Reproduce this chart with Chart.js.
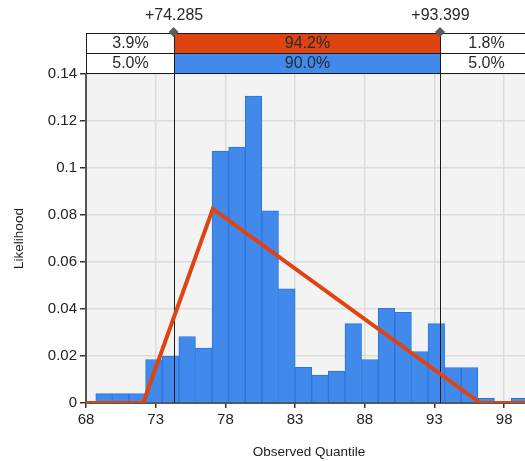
<!DOCTYPE html>
<html>
<head>
<meta charset="utf-8">
<script src="https://cdn.jsdelivr.net/npm/chart.js@4.4.1/dist/chart.umd.min.js"></script>
<style>
  html, body { margin: 0; padding: 0; background: #ffffff; overflow: hidden; }
  #wrap { width: 545px; height: 461px; }
</style>
</head>
<body>
<div id="wrap"><canvas id="c" width="545" height="461"></canvas></div>
<script>
// Histogram of observed values: bin centres and likelihood (density) per bin
const binCenters = [69.296, 70.488, 71.680, 72.872, 74.064, 75.256, 76.448, 77.640, 78.832,
                    80.024, 81.216, 82.408, 83.600, 84.792, 85.984, 87.176, 88.368, 89.560,
                    90.752, 91.944, 93.136, 94.328, 95.520, 96.712, 97.904, 99.096];
const likelihood = [0.0040, 0.0040, 0.0040, 0.0185, 0.0200, 0.0283, 0.0234, 0.1072, 0.1089,
                    0.1306, 0.0818, 0.0486, 0.0152, 0.0119, 0.0136, 0.0338, 0.0185, 0.0403,
                    0.0386, 0.0219, 0.0338, 0.0151, 0.0151, 0.0020, 0.0000, 0.0020];

// Fitted triangular distribution (min 72.1, mode 77.1, max 96.3)
const fitX = [68, 72.1, 77.1, 96.3, 100];
const fitY = [0, 0, 0.0826, 0, 0];

// Axis ticks
const xTicks = [68, 73, 78, 83, 88, 93, 98];
const yTicks = [0, 0.02, 0.04, 0.06, 0.08, 0.1, 0.12, 0.14];
const yTickLabels = ['0', '0.02', '0.04', '0.06', '0.08', '0.1', '0.12', '0.14'];

// Delimiters and the probability shares on each side
const delimiters = [74.285, 93.399];
const delimiterLabels = ['+74.285', '+93.399'];
const fitShares = ['3.9%', '94.2%', '1.8%'];
const inputShares = ['5.0%', '90.0%', '5.0%'];

const RED = '#df4410';
const BLUE = '#4189ea';
const FONT = '"Liberation Sans", Arial, sans-serif';

const plotBackground = {
  id: 'plotBackground',
  beforeDraw(chart) {
    const { ctx, chartArea: a } = chart;
    ctx.save();
    ctx.fillStyle = '#f3f3f3';
    ctx.fillRect(a.left, a.top, a.right - a.left, a.bottom - a.top);
    ctx.restore();
  }
};

// Vertical delimiter lines, drawn over the bars but under the fitted curve
const delimiterLines = {
  id: 'delimiterLines',
  afterDatasetDraw(chart, args) {
    if (args.index !== 0) return;
    const { ctx, chartArea: a } = chart;
    const xs = chart.scales.x;
    ctx.save();
    ctx.strokeStyle = '#1a1a1a';
    ctx.lineWidth = 1;
    delimiters.forEach(v => {
      const px = Math.round(xs.getPixelForValue(v)) + 0.5;
      ctx.beginPath();
      ctx.moveTo(px, a.top);
      ctx.lineTo(px, a.bottom);
      ctx.stroke();
    });
    ctx.restore();
  }
};

// Probability bar above the plot with the delimiter handles
const shareTable = {
  id: 'shareTable',
  afterDraw(chart) {
    const { ctx, chartArea: a } = chart;
    const xs = chart.scales.x;
    const edges = [a.left, xs.getPixelForValue(delimiters[0]), xs.getPixelForValue(delimiters[1]), a.right]
      .map(v => Math.round(v) + 0.5);
    const rows = [
      { top: 33.5, fills: ['#ffffff', RED, '#ffffff'], texts: fitShares },
      { top: 53.5, fills: ['#ffffff', BLUE, '#ffffff'], texts: inputShares }
    ];
    const h = 20;
    ctx.save();
    ctx.font = '16px ' + FONT;
    ctx.textAlign = 'center';
    ctx.textBaseline = 'middle';
    rows.forEach(r => {
      for (let i = 0; i < 3; i++) {
        ctx.fillStyle = r.fills[i];
        ctx.fillRect(edges[i], r.top, edges[i + 1] - edges[i], h);
        ctx.strokeStyle = '#1a1a1a';
        ctx.lineWidth = 1;
        ctx.strokeRect(edges[i], r.top, edges[i + 1] - edges[i], h);
        ctx.fillStyle = '#2a2a2a';
        ctx.fillText(r.texts[i], (edges[i] + edges[i + 1]) / 2, r.top + h / 2 + 0.5);
      }
    });
    // delimiter handles and their values
    delimiters.forEach((v, i) => {
      const px = xs.getPixelForValue(v);
      const cy = 32;
      ctx.fillStyle = '#5c5c5c';
      ctx.beginPath();
      ctx.moveTo(px, cy - 5);
      ctx.lineTo(px + 5, cy);
      ctx.lineTo(px, cy + 5);
      ctx.lineTo(px - 5, cy);
      ctx.closePath();
      ctx.fill();
      ctx.fillStyle = '#2a2a2a';
      ctx.fillText(delimiterLabels[i], px + 0.5, 15.5);
    });
    ctx.restore();
  }
};

new Chart(document.getElementById('c'), {
  type: 'bar',
  data: {
    datasets: [
      {
        type: 'bar',
        label: 'Observed',
        data: binCenters.map((x, i) => ({ x: x, y: likelihood[i] })),
        backgroundColor: BLUE,
        borderColor: '#2a76de',
        borderWidth: 1,
        borderSkipped: 'start',
        barPercentage: 1,
        categoryPercentage: 1,
        order: 2
      },
      {
        type: 'line',
        label: 'Triangular fit',
        data: fitX.map((x, i) => ({ x: x, y: fitY[i] })),
        borderColor: RED,
        borderWidth: 4,
        pointRadius: 0,
        tension: 0,
        fill: false,
        order: 1
      }
    ]
  },
  options: {
    responsive: false,
    animation: false,
    devicePixelRatio: 1,
    layout: { padding: { top: 74, right: 13, left: 0, bottom: 0 } },
    plugins: { legend: { display: false }, tooltip: { enabled: false } },
    scales: {
      x: {
        type: 'linear',
        min: 68,
        max: 100,
        offset: false,
        afterBuildTicks(scale) { scale.ticks = xTicks.map(v => ({ value: v })); },
        afterFit(scale) { scale.height = 58; },
        ticks: {
          color: '#222222',
          font: { family: FONT, size: 15 },
          padding: 3,
          maxRotation: 0,
          autoSkip: false,
          callback: v => String(v)
        },
        grid: { color: '#dcdcdc', lineWidth: 1.5, tickColor: '#333333', tickWidth: 1.5, tickLength: 5, offset: false },
        border: { color: '#555555', width: 2 },
        title: {
          display: true,
          text: 'Observed Quantile',
          color: '#222222',
          font: { family: FONT, size: 13.5 },
          padding: { top: 0, bottom: 1 }
        }
      },
      y: {
        min: 0,
        max: 0.14,
        afterBuildTicks(scale) { scale.ticks = yTicks.map(v => ({ value: v })); },
        afterFit(scale) { scale.width = 86; },
        ticks: {
          color: '#222222',
          font: { family: FONT, size: 15 },
          padding: 3,
          callback: (v, i) => yTickLabels[i]
        },
        grid: { color: '#dcdcdc', lineWidth: 1.5, tickColor: '#333333', tickWidth: 1.5, tickLength: 6 },
        border: { color: '#555555', width: 2 },
        title: {
          display: true,
          text: 'Likelihood',
          color: '#222222',
          font: { family: FONT, size: 13.5 },
          padding: { top: 11, bottom: 0 }
        }
      }
    }
  },
  plugins: [plotBackground, delimiterLines, shareTable]
});
</script>
</body>
</html>
